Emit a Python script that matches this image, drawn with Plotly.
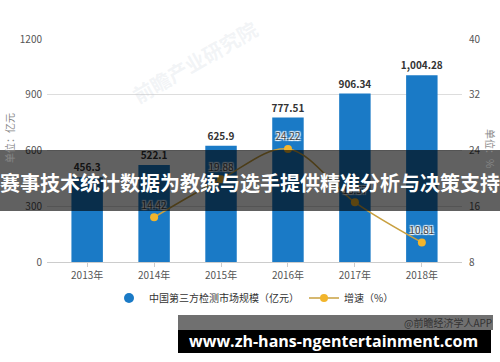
import plotly.graph_objects as go

years = ["2013年", "2014年", "2015年", "2016年", "2017年", "2018年"]
market_size = [456.3, 522.1, 625.9, 777.51, 906.34, 1004.28]
growth_years = ["2014年", "2015年", "2016年", "2017年", "2018年"]
growth = [14.42, 19.88, 24.22, 16.57, 10.81]

bar_name = "中国第三方检测市场规模（亿元）"
line_name = "增速（%）"
banner_text = "赛事技术统计数据为教练与选手提供精准分析与决策支持"

W, H = 500, 362
L, R, T, B = 47, 462, 39, 262
FONT = "Noto Sans CJK SC"


def px(x):
    return (x - L) / (R - L)


def py(y):
    return (B - y) / (B - T)


BLUE = "#1a7ac6"
GOLD = "#f2b52c"
GOLD_LINE = "#c9a040"

fig = go.Figure()
fig.add_trace(go.Bar(
    x=years, y=market_size, name=bar_name, showlegend=False,
    marker=dict(color=BLUE, line=dict(width=0)), width=0.47,
    text=[f"{v:,}" for v in market_size], textposition="outside",
    constraintext="none",
    textfont=dict(family=FONT, size=10, color="#333333", weight="bold"),
    cliponaxis=False,
))
fig.add_trace(go.Scatter(
    x=[None], y=[None], mode="markers", name=bar_name,
    marker=dict(color=BLUE, size=10, symbol="circle"),
))
fig.add_trace(go.Scatter(
    x=growth_years, y=growth, name=line_name, yaxis="y2",
    mode="lines+markers+text",
    line=dict(color=GOLD_LINE, width=1.5, shape="spline", smoothing=1),
    marker=dict(color=GOLD, size=8),
    text=[f"{v:.2f}" for v in growth], textposition="top center",
    textfont=dict(family=FONT, size=10, color="#444444",
                  shadow="1px 1px 1px white, -1px -1px 1px white, 1px -1px 1px white, -1px 1px 1px white"),
    cliponaxis=False,
))

shapes = [
    dict(type="rect", xref="paper", yref="paper", layer="above",
         x0=px(-5), x1=px(505), y0=py(211), y1=py(150),
         fillcolor="rgba(0,0,0,0.62)", line=dict(width=0)),
    dict(type="rect", xref="paper", yref="paper", layer="above",
         x0=px(178), x1=px(493), y0=py(330), y1=py(315),
         fillcolor="#707070", line=dict(width=0)),
    dict(type="rect", xref="paper", yref="paper", layer="above",
         x0=px(178), x1=px(491), y0=py(353), y1=py(330),
         fillcolor="#000000", line=dict(width=0)),
]

annotations = [
    dict(text="前瞻产业研究院", xref="paper", yref="paper", x=px(195), y=py(62),
         xanchor="center", yanchor="middle", showarrow=False, textangle=-30,
         font=dict(family=FONT, size=20, color="rgba(190,198,212,0.2)", weight="bold")),
    dict(text="单位：亿元", xref="paper", yref="paper", x=px(9), y=py(138),
         xanchor="center", yanchor="middle", showarrow=False, textangle=-90,
         font=dict(family=FONT, size=10, color="#888888")),
    dict(text="单位：%", xref="paper", yref="paper", x=px(491), y=py(148),
         xanchor="center", yanchor="middle", showarrow=False, textangle=90,
         font=dict(family=FONT, size=10, color="#888888")),
    dict(text=banner_text, xref="paper", yref="paper", x=px(250), y=py(182),
         xanchor="center", yanchor="middle", showarrow=False,
         font=dict(family=FONT, size=20, color="white", weight="bold")),
    dict(text="@前瞻经济学人APP", xref="paper", yref="paper", x=px(494), y=py(322),
         xanchor="right", yanchor="middle", showarrow=False,
         font=dict(family=FONT, size=10, color="#333333")),
    dict(text="www.zh-hans-ngentertainment.com", xref="paper", yref="paper",
         x=px(333), y=py(341), xanchor="center", yanchor="middle", showarrow=False,
         font=dict(family="Open Sans", size=16, color="white", weight="bold")),
]

fig.update_layout(
    width=W, height=H,
    margin=dict(l=L, r=W - R, t=T, b=H - B, pad=0),
    paper_bgcolor="white", plot_bgcolor="white",
    font=dict(family=FONT, size=10, color="#555555"),
    xaxis=dict(type="category", range=[-0.6, 5.6], showgrid=False,
               showline=True, linecolor="#cccccc", linewidth=1,
               ticks="outside", ticklen=4, tickcolor="#cccccc",
               tickfont=dict(size=10, color="#555555"), fixedrange=True),
    yaxis=dict(range=[0, 1200], dtick=300, showgrid=True, gridcolor="#dddddd",
               gridwidth=1, zeroline=False, showline=False, ticks="",
               tickfont=dict(size=10, color="#555555"), ticklabelstandoff=4),
    yaxis2=dict(range=[8, 40], dtick=8, overlaying="y", side="right",
                showgrid=False, zeroline=False, showline=False, ticks="",
                tickfont=dict(size=10, color="#555555"), ticklabelstandoff=6),
    legend=dict(orientation="h", x=px(254), xanchor="center", y=py(298),
                yanchor="middle", font=dict(size=10, color="#333333"),
                itemwidth=30, traceorder="normal", bgcolor="rgba(0,0,0,0)"),
    shapes=shapes, annotations=annotations,
)

fig.write_html("out.html")
